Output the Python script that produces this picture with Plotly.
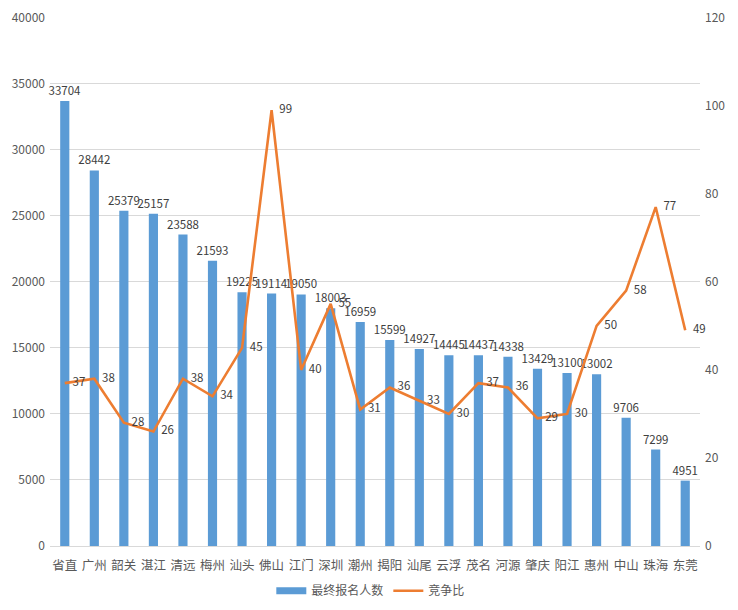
import plotly.graph_objects as go

categories = ["省直", "广州", "韶关", "湛江", "清远", "梅州", "汕头", "佛山", "江门", "深圳", "潮州",
              "揭阳", "汕尾", "云浮", "茂名", "河源", "肇庆", "阳江", "惠州", "中山", "珠海", "东莞"]
applicants = [33704, 28442, 25379, 25157, 23588, 21593, 19225, 19114, 19050, 18003, 16959,
              15599, 14927, 14445, 14437, 14338, 13429, 13100, 13002, 9706, 7299, 4951]
ratio = [37, 38, 28, 26, 38, 34, 45, 99, 40, 55, 31, 36, 33, 30, 37, 36, 29, 30, 50, 58, 77, 49]

FONT = "Microsoft YaHei, Noto Sans CJK SC, sans-serif"
TXT = "#595959"
BLUE = "#5B9BD5"
ORANGE = "#ED7D31"

fig = go.Figure()
fig.add_trace(go.Bar(
    x=categories, y=applicants, name="最终报名人数", showlegend=False,
    marker=dict(color=BLUE, line=dict(width=0)),
    text=[str(v) for v in applicants], textposition="outside",
    textfont=dict(size=11.5, color="#404040", family=FONT),
    constraintext="none", cliponaxis=False,
))
# legend-only entry drawn as a wide flat rectangle, like the reference's legend key
fig.add_trace(go.Scatter(
    x=[None], y=[None], name="最终报名人数", mode="lines",
    line=dict(color=BLUE, width=7), hoverinfo="skip",
))
fig.add_trace(go.Scatter(
    x=categories, y=ratio, name="竞争比", yaxis="y2",
    mode="lines+text",
    line=dict(color=ORANGE, width=2.6),
    text=["   " + str(v) for v in ratio], textposition="middle right",
    textfont=dict(size=11.5, color="#404040", family=FONT),
    cliponaxis=False,
))

fig.update_layout(
    width=730, height=602,
    margin=dict(l=42, r=38, t=9, b=64, autoexpand=False),
    paper_bgcolor="white", plot_bgcolor="white",
    font=dict(family=FONT, size=12, color=TXT),
    bargap=0.69,
    showlegend=True,
    legend=dict(orientation="h", x=0.497, xanchor="center", xref="container",
                y=0.032, yanchor="middle", yref="container",
                font=dict(size=12, color=TXT), traceorder="normal", itemwidth=30),
    xaxis=dict(range=[-0.5, len(categories) - 0.5], showgrid=False, showline=True,
               linecolor="#D9D9D9", linewidth=1, ticklabelstandoff=8,
               ticks="", tickfont=dict(size=12.5, color=TXT), automargin=False),
    yaxis=dict(range=[0, 40060], dtick=5000, showgrid=True, gridcolor="#D9D9D9",
               zeroline=False, showline=False, ticks="", tickfont=dict(size=12, color=TXT),
               tickformat="d", automargin=False, ticklabelstandoff=4,
               ticklabeloverflow="allow"),
    yaxis2=dict(range=[0, 120.18], dtick=20, overlaying="y", side="right", showgrid=False,
                zeroline=False, showline=False, ticks="", tickfont=dict(size=12, color=TXT),
                automargin=False, ticklabelstandoff=4, ticklabeloverflow="allow"),
)

fig.write_html("out.html")
